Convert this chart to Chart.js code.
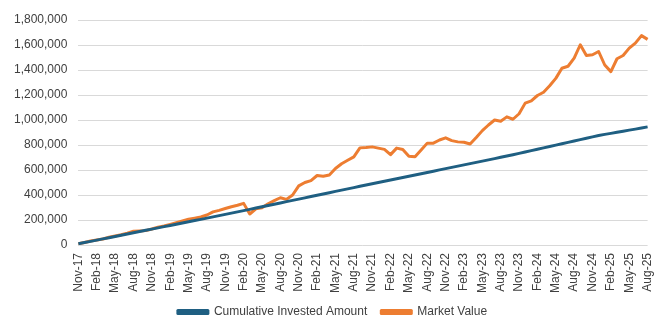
<!DOCTYPE html>
<html>
<head>
<meta charset="utf-8">
<script src="https://cdn.jsdelivr.net/npm/chart.js@4/dist/chart.umd.min.js"></script>
<style>
  html, body { margin: 0; padding: 0; background: #ffffff; }
  #wrap { width: 670px; height: 325px; position: relative; }
</style>
</head>
<body>
<div id="wrap"><canvas id="chart"></canvas></div>
<script>
// Month-end categories, Nov 2017 to Aug 2025
const months = [
  'Nov-17','Dec-17',
  'Jan-18','Feb-18','Mar-18','Apr-18','May-18','Jun-18','Jul-18','Aug-18','Sep-18','Oct-18','Nov-18','Dec-18',
  'Jan-19','Feb-19','Mar-19','Apr-19','May-19','Jun-19','Jul-19','Aug-19','Sep-19','Oct-19','Nov-19','Dec-19',
  'Jan-20','Feb-20','Mar-20','Apr-20','May-20','Jun-20','Jul-20','Aug-20','Sep-20','Oct-20','Nov-20','Dec-20',
  'Jan-21','Feb-21','Mar-21','Apr-21','May-21','Jun-21','Jul-21','Aug-21','Sep-21','Oct-21','Nov-21','Dec-21',
  'Jan-22','Feb-22','Mar-22','Apr-22','May-22','Jun-22','Jul-22','Aug-22','Sep-22','Oct-22','Nov-22','Dec-22',
  'Jan-23','Feb-23','Mar-23','Apr-23','May-23','Jun-23','Jul-23','Aug-23','Sep-23','Oct-23','Nov-23','Dec-23',
  'Jan-24','Feb-24','Mar-24','Apr-24','May-24','Jun-24','Jul-24','Aug-24','Sep-24','Oct-24','Nov-24','Dec-24',
  'Jan-25','Feb-25','Mar-25','Apr-25','May-25','Jun-25','Jul-25','Aug-25'
];

// Running total of contributions
const investedAmount = [
  10000, 20000,
  29000, 39000, 49000, 58000, 68000, 78000, 88000, 98000, 108000, 118000, 127000, 137000,
  147000, 156000, 166000, 176000, 186000, 196000, 205000, 215000, 225000, 235000, 245000, 255000,
  265000, 275000, 285000, 296000, 306000, 316000, 326000, 336000, 347000, 357000, 367000, 377000,
  388000, 398000, 408000, 418000, 429000, 439000, 449000, 459000, 470000, 480000, 490000, 500000,
  510000, 520000, 530000, 540000, 550000, 560000, 570000, 580000, 590000, 601000, 611000, 621000,
  631000, 641000, 651000, 661000, 671000, 681000, 691000, 702000, 712000, 722000, 733000, 744000,
  755000, 766000, 777000, 788000, 799000, 810000, 821000, 832000, 843000, 854000, 865000, 876000,
  885000, 893000, 902000, 910000, 919000, 927000, 936000, 945000
];

// Portfolio value at each month end
const marketValue = [
  10000, 20000,
  32000, 40000, 48000, 62000, 72000, 82000, 95000, 110000, 112000, 115000, 128000, 143000,
  152000, 165000, 178000, 192000, 207000, 215000, 224000, 240000, 265000, 277000, 292000, 306000,
  318000, 333000, 248000, 290000, 298000, 330000, 355000, 378000, 365000, 400000, 473000, 500000,
  515000, 556000, 550000, 560000, 612000, 650000, 678000, 705000, 777000, 780000, 785000, 775000,
  765000, 723000, 775000, 764000, 710000, 706000, 760000, 815000, 815000, 840000, 857000, 835000,
  825000, 822000, 808000, 860000, 915000, 960000, 1000000, 990000, 1025000, 1006000, 1050000, 1135000,
  1153000, 1196000, 1222000, 1274000, 1333000, 1414000, 1430000, 1495000, 1602000, 1516000, 1522000, 1548000,
  1440000, 1387000, 1490000, 1516000, 1575000, 1615000, 1675000, 1645000
];

const yTicks = [0, 200000, 400000, 600000, 800000, 1000000, 1200000, 1400000, 1600000, 1800000];

const BLUE = '#1f5f82';
const ORANGE = '#ed7d31';
const TEXT = '#404040';
const GRID = '#d9d9d9';
const FONT = { family: 'Liberation Sans', size: 12 };

new Chart(document.getElementById('chart'), {
  type: 'line',
  data: {
    labels: months,
    datasets: [
      {
        label: 'Cumulative Invested Amount',
        data: investedAmount,
        borderColor: BLUE,
        backgroundColor: BLUE,
        borderWidth: 3,
        pointRadius: 0,
        tension: 0,
        borderJoinStyle: 'round'
      },
      {
        label: 'Market Value',
        data: marketValue,
        borderColor: ORANGE,
        backgroundColor: ORANGE,
        borderWidth: 3,
        pointRadius: 0,
        tension: 0,
        borderJoinStyle: 'round'
      }
    ]
  },
  options: {
    responsive: true,
    maintainAspectRatio: false,
    animation: false,
    layout: { padding: { top: 20, right: 8, bottom: -3, left: 3 } },
    plugins: {
      tooltip: { enabled: false },
      legend: {
        position: 'bottom',
        labels: {
          font: FONT,
          color: TEXT,
          boxWidth: 30,
          boxHeight: 3,
          padding: 14
        }
      }
    },
    scales: {
      x: {
        type: 'category',
        offset: false,
        grid: { display: false, drawTicks: false },
        border: { display: false },
        afterFit: function (axis) { axis.height = 47; },
        ticks: {
          autoSkip: false,
          minRotation: 90,
          maxRotation: 90,
          padding: 8,
          font: FONT,
          color: TEXT,
          callback: function (value, index) {
            return index % 3 === 0 ? months[index] : '';
          }
        }
      },
      y: {
        min: 0,
        max: 1800000,
        afterBuildTicks: function (axis) {
          axis.ticks = yTicks.map(v => ({ value: v }));
        },
        grid: { color: GRID, lineWidth: 1, drawTicks: false },
        border: { display: false },
        ticks: {
          padding: 11,
          font: FONT,
          color: TEXT,
          callback: function (value) {
            return value.toLocaleString('en-US');
          }
        }
      }
    }
  }
});
</script>
</body>
</html>
